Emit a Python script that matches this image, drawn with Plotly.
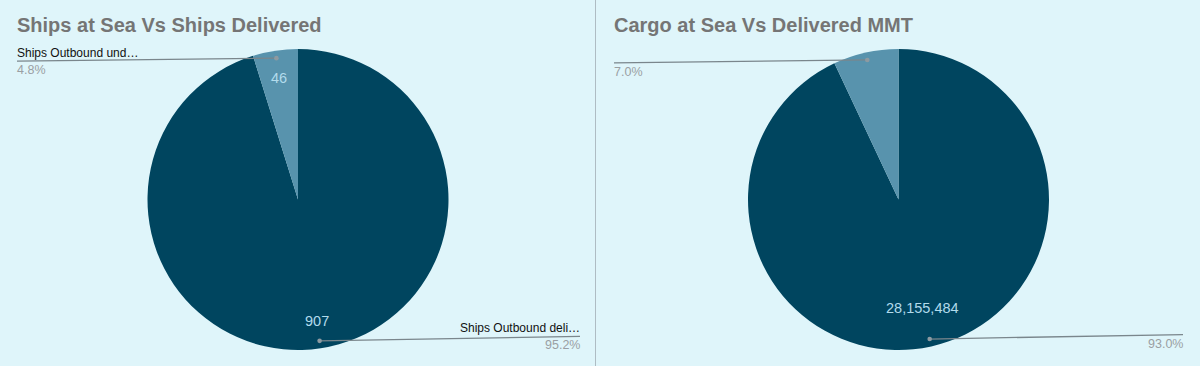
import math
import plotly.graph_objects as go

# ---------------- data ----------------
ships_labels = ["Ships Outbound und\u2026", "Ships Outbound deli\u2026"]
ships_values = [46, 907]
ships_value_text = ["46", "907"]

cargo_labels = ["Cargo at Sea", "Cargo Delivered"]
cargo_callout_names = ["", ""]
cargo_values = [2119230, 28155484]
cargo_value_text = ["", "28,155,484"]

titles = ["Ships at Sea Vs Ships Delivered", "Cargo at Sea Vs Delivered MMT"]

# ---------------- style / layout ----------------
W, H = 1200, 366
BG = "#dff5fa"
DARK = "#00455f"
LIGHT = "#5893ad"
VAL_COLOR = "#b2dbec"
TITLE_COLOR = "#757575"
LINE_COLOR = "#7a868c"
PCT_COLOR = "#9a9fa3"
FONT = "Liberation Sans, Arial, sans-serif"

R = 150.5
panels = [
    dict(cx=298.0, cy=199.5, left=17, right=580, title_x=17),
    dict(cx=898.5, cy=199.5, left=614, right=1183, title_x=614),
]


def px(x):
    return x / W


def py(y):
    return 1 - y / H


fig = go.Figure()
annotations = []
shapes = []

datasets = [
    (ships_labels, ships_labels, ships_values, ships_value_text),
    (cargo_labels, cargo_callout_names, cargo_values, cargo_value_text),
]
colors = [LIGHT, DARK]

for i, (p, (labels, names, values, vtext)) in enumerate(zip(panels, datasets)):
    cx, cy = p["cx"], p["cy"]
    # plotly draws clockwise from 12 o'clock; reversed order puts the first
    # (small) slice just left of 12 o'clock, as in the reference
    fig.add_trace(go.Pie(
        labels=labels[::-1], values=values[::-1], sort=False, direction="clockwise",
        rotation=0, textinfo="none", hole=0,
        marker=dict(colors=colors[::-1], line=dict(width=0)),
        domain=dict(x=[px(cx - R), px(cx + R)], y=[py(cy + R), py(cy - R)]),
        showlegend=False,
    ))
    total = sum(values)
    cum = 0.0
    for j, v in enumerate(values):
        frac = v / total
        mid = -(cum + frac / 2) * 2 * math.pi  # clockwise-from-top angle
        cum += frac
        s, c = math.sin(mid), math.cos(mid)
        # inside value label
        if vtext[j]:
            rho = R * (0.82 if len(vtext[j]) < 6 else 0.74)
            annotations.append(dict(
                x=px(cx + rho * s), y=py(cy - rho * c), xref="paper", yref="paper",
                text=vtext[j], showarrow=False, xanchor="center", yanchor="middle",
                font=dict(family=FONT, size=14.5, color=VAL_COLOR)))
        # callout dot + line
        dx, dy = cx + 0.95 * R * s, cy - 0.95 * R * c
        top = dy < cy
        ex = p["left"] if s < 0 else p["right"]
        ey = dy + (3 if top else -4.5)
        shapes.append(dict(type="line", xref="paper", yref="paper",
                           x0=px(dx), y0=py(dy), x1=px(ex), y1=py(ey),
                           line=dict(color=LINE_COLOR, width=1.3)))
        shapes.append(dict(type="circle", xref="paper", yref="paper",
                           x0=px(dx - 2.3), x1=px(dx + 2.3), y0=py(dy + 2.3), y1=py(dy - 2.3),
                           fillcolor="#8d9aa1", line=dict(width=0)))
        anchor = "left" if s < 0 else "right"
        tx = ex - 2 if s < 0 else ex + 2
        if names[j]:
            annotations.append(dict(
                x=px(tx), y=py(ey - 8), xref="paper", yref="paper", text=names[j],
                showarrow=False, xanchor=anchor, yanchor="middle",
                font=dict(family=FONT, size=12, color="#111111")))
        annotations.append(dict(
            x=px(tx), y=py(ey + 9), xref="paper", yref="paper",
            text=f"{frac * 100:.1f}%", showarrow=False, xanchor=anchor, yanchor="middle",
            font=dict(family=FONT, size=12.5, color=PCT_COLOR)))
    annotations.append(dict(
        x=px(p["title_x"] - 2), y=py(25), xref="paper", yref="paper",
        text=f"<b>{titles[i]}</b>", showarrow=False, xanchor="left", yanchor="middle",
        font=dict(family=FONT, size=20, color=TITLE_COLOR)))

shapes.append(dict(type="line", xref="paper", yref="paper", x0=px(595.5), x1=px(595.5),
                   y0=0, y1=1, line=dict(color="#aebcc3", width=1)))

fig.update_layout(
    width=W, height=H, margin=dict(l=0, r=0, t=0, b=0),
    paper_bgcolor=BG, plot_bgcolor=BG,
    annotations=annotations, shapes=shapes,
)

fig.write_html("out.html", config={"displayModeBar": False},
               post_script="document.body.style.margin='0';")
